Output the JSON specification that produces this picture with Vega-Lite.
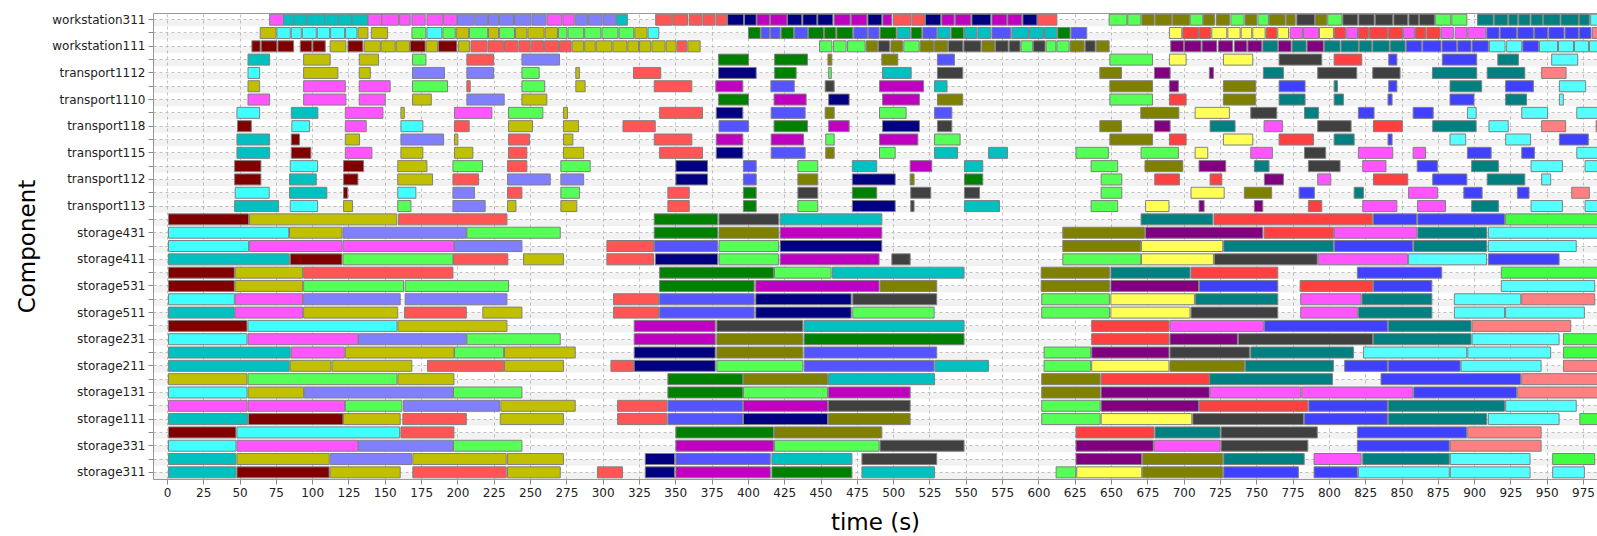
{
"$schema":"https://vega.github.io/schema/vega-lite/v6.json",
"width":1444,"height":466,
"autosize":{"type":"none"},
"padding":{"left":153,"top":13,"right":0,"bottom":57},
"background":"white",
"config":{"view":{"stroke":"#999999","strokeWidth":1},"font":"DejaVu Sans","axis":{"labelFont":"DejaVu Sans","titleFont":"DejaVu Sans"}},
"datasets":{
"lanes":[{"lane":"workstation311"},{"lane":"lane1"},{"lane":"workstation111"},{"lane":"lane3"},{"lane":"transport1112"},{"lane":"lane5"},{"lane":"transport1110"},{"lane":"lane7"},{"lane":"transport118"},{"lane":"lane9"},{"lane":"transport115"},{"lane":"lane11"},{"lane":"transport112"},{"lane":"lane13"},{"lane":"transport113"},{"lane":"lane15"},{"lane":"storage431"},{"lane":"lane17"},{"lane":"storage411"},{"lane":"lane19"},{"lane":"storage531"},{"lane":"lane21"},{"lane":"storage511"},{"lane":"lane23"},{"lane":"storage231"},{"lane":"lane25"},{"lane":"storage211"},{"lane":"lane27"},{"lane":"storage131"},{"lane":"lane29"},{"lane":"storage111"},{"lane":"lane31"},{"lane":"storage331"},{"lane":"lane33"},{"lane":"storage311"}],
"bars":[
{"lane":"workstation311","start":70.7,"end":80.3,"job":"pink"},{"lane":"workstation311","start":80.3,"end":87.2,"job":"teal"},{"lane":"workstation311","start":87.2,"end":96.4,"job":"teal"},{"lane":"workstation311","start":96.4,"end":108.5,"job":"teal"},{"lane":"workstation311","start":108.5,"end":118.2,"job":"teal"},{"lane":"workstation311","start":118.2,"end":127.4,"job":"teal"},{"lane":"workstation311","start":127.4,"end":138.4,"job":"teal"},{"lane":"workstation311","start":138.4,"end":148,"job":"pink"},{"lane":"workstation311","start":148,"end":159.5,"job":"pink"},{"lane":"workstation311","start":160.2,"end":167.5,"job":"pink"},{"lane":"workstation311","start":168.6,"end":177.8,"job":"pink"},{"lane":"workstation311","start":179,"end":190,"job":"pink"},{"lane":"workstation311","start":190.5,"end":199.6,"job":"pink"},{"lane":"workstation311","start":200.1,"end":211.6,"job":"lav"},{"lane":"workstation311","start":212.3,"end":220.8,"job":"lav"},{"lane":"workstation311","start":221.4,"end":228.3,"job":"lav"},{"lane":"workstation311","start":229,"end":238.6,"job":"lav"},{"lane":"workstation311","start":239.3,"end":250.6,"job":"lav"},{"lane":"workstation311","start":251.3,"end":260.9,"job":"lav"},{"lane":"workstation311","start":261.6,"end":271.9,"job":"pink"},{"lane":"workstation311","start":272.6,"end":280.4,"job":"pink"},{"lane":"workstation311","start":281.1,"end":289.6,"job":"lav"},{"lane":"workstation311","start":290.3,"end":299.7,"job":"lav"},{"lane":"workstation311","start":300.4,"end":309.1,"job":"lav"},{"lane":"workstation311","start":309.6,"end":317,"job":"teal"},{"lane":"workstation311","start":336.5,"end":347.6,"job":"red"},{"lane":"workstation311","start":348.2,"end":358.4,"job":"red"},{"lane":"workstation311","start":359.5,"end":368.3,"job":"red"},{"lane":"workstation311","start":369,"end":377.4,"job":"red"},{"lane":"workstation311","start":378.2,"end":385.5,"job":"red"},{"lane":"workstation311","start":386,"end":397,"job":"navy"},{"lane":"workstation311","start":397.7,"end":405.7,"job":"navy"},{"lane":"workstation311","start":406.2,"end":415,"job":"purple"},{"lane":"workstation311","start":415.4,"end":426.9,"job":"purple"},{"lane":"workstation311","start":427.2,"end":437.1,"job":"navy"},{"lane":"workstation311","start":437.8,"end":447.5,"job":"navy"},{"lane":"workstation311","start":448.1,"end":458.5,"job":"navy"},{"lane":"workstation311","start":459.4,"end":470.4,"job":"purple"},{"lane":"workstation311","start":471.1,"end":481.9,"job":"purple"},{"lane":"workstation311","start":482.6,"end":492.2,"job":"navy"},{"lane":"workstation311","start":492.9,"end":499.1,"job":"purple"},{"lane":"workstation311","start":500.2,"end":512.4,"job":"red"},{"lane":"workstation311","start":513.1,"end":521.6,"job":"red"},{"lane":"workstation311","start":522.3,"end":532.8,"job":"navy"},{"lane":"workstation311","start":533.5,"end":542,"job":"purple"},{"lane":"workstation311","start":542.7,"end":553.5,"job":"purple"},{"lane":"workstation311","start":554.2,"end":567.2,"job":"navy"},{"lane":"workstation311","start":568,"end":578.3,"job":"purple"},{"lane":"workstation311","start":578.9,"end":588.6,"job":"purple"},{"lane":"workstation311","start":589.3,"end":599,"job":"navy"},{"lane":"workstation311","start":599.4,"end":612.7,"job":"red"},{"lane":"workstation311","start":648.7,"end":660.9,"job":"green"},{"lane":"workstation311","start":661.5,"end":670.5,"job":"green"},{"lane":"workstation311","start":671.2,"end":679.7,"job":"olive2"},{"lane":"workstation311","start":680.4,"end":691.8,"job":"olive2"},{"lane":"workstation311","start":692.5,"end":704,"job":"olive2"},{"lane":"workstation311","start":704.5,"end":713.2,"job":"green"},{"lane":"workstation311","start":713.6,"end":721.2,"job":"olive2"},{"lane":"workstation311","start":722.4,"end":731.5,"job":"olive2"},{"lane":"workstation311","start":732.5,"end":741.6,"job":"green"},{"lane":"workstation311","start":742.3,"end":750.3,"job":"olive2"},{"lane":"workstation311","start":751.1,"end":758.4,"job":"green"},{"lane":"workstation311","start":759.1,"end":769.9,"job":"olive2"},{"lane":"workstation311","start":770.6,"end":776.8,"job":"olive2"},{"lane":"workstation311","start":777.9,"end":790.1,"job":"dgray"},{"lane":"workstation311","start":790.7,"end":798.6,"job":"olive2"},{"lane":"workstation311","start":799.2,"end":808.9,"job":"green"},{"lane":"workstation311","start":809.6,"end":819.7,"job":"dgray"},{"lane":"workstation311","start":820.6,"end":831.2,"job":"dgray"},{"lane":"workstation311","start":831.9,"end":844,"job":"dgray"},{"lane":"workstation311","start":844.7,"end":854.3,"job":"dgray"},{"lane":"workstation311","start":855.1,"end":861.7,"job":"dgray"},{"lane":"workstation311","start":862.3,"end":872.7,"job":"dgray"},{"lane":"workstation311","start":873.3,"end":883.9,"job":"green"},{"lane":"workstation311","start":884.6,"end":895,"job":"green"},{"lane":"workstation311","start":902.3,"end":913.2,"job":"dcyan"},{"lane":"workstation311","start":914,"end":923.1,"job":"dcyan"},{"lane":"workstation311","start":923.8,"end":930,"job":"dcyan"},{"lane":"workstation311","start":930.7,"end":938.5,"job":"dcyan"},{"lane":"workstation311","start":939.2,"end":947.2,"job":"dcyan"},{"lane":"workstation311","start":947.7,"end":959.2,"job":"dcyan"},{"lane":"workstation311","start":959.8,"end":971.8,"job":"dcyan"},{"lane":"workstation311","start":972.5,"end":979.3,"job":"dcyan"},{"lane":"workstation311","start":980.2,"end":990,"job":"lcyan"},
{"lane":"lane1","start":64.2,"end":75,"job":"olive"},{"lane":"lane1","start":75.7,"end":84.9,"job":"cyan"},{"lane":"lane1","start":85.6,"end":92.5,"job":"cyan"},{"lane":"lane1","start":93.2,"end":102.8,"job":"cyan"},{"lane":"lane1","start":103.5,"end":112,"job":"cyan"},{"lane":"lane1","start":112.7,"end":122.3,"job":"cyan"},{"lane":"lane1","start":123,"end":130.8,"job":"cyan"},{"lane":"lane1","start":131.5,"end":138.4,"job":"olive"},{"lane":"lane1","start":140.7,"end":151.9,"job":"olive"},{"lane":"lane1","start":168.7,"end":178.3,"job":"green"},{"lane":"lane1","start":179,"end":189.3,"job":"cyan"},{"lane":"lane1","start":190,"end":198.5,"job":"green"},{"lane":"lane1","start":199.2,"end":207.7,"job":"olive"},{"lane":"lane1","start":208.3,"end":220.8,"job":"green"},{"lane":"lane1","start":221.4,"end":228.3,"job":"olive"},{"lane":"lane1","start":229,"end":239.3,"job":"green"},{"lane":"lane1","start":240,"end":247.8,"job":"olive"},{"lane":"lane1","start":248.5,"end":259.7,"job":"olive"},{"lane":"lane1","start":260.4,"end":268.9,"job":"olive"},{"lane":"lane1","start":269.6,"end":275.4,"job":"green"},{"lane":"lane1","start":276.1,"end":286.9,"job":"green"},{"lane":"lane1","start":287.6,"end":298.8,"job":"green"},{"lane":"lane1","start":299.5,"end":310.6,"job":"green"},{"lane":"lane1","start":311.3,"end":321.4,"job":"green"},{"lane":"lane1","start":322.1,"end":330.6,"job":"olive"},{"lane":"lane1","start":331.3,"end":338.6,"job":"cyan"},{"lane":"lane1","start":400.4,"end":408.5,"job":"dgreen"},{"lane":"lane1","start":409.1,"end":414.9,"job":"blue"},{"lane":"lane1","start":415.6,"end":422.2,"job":"blue"},{"lane":"lane1","start":422.9,"end":431.4,"job":"dgreen"},{"lane":"lane1","start":432.1,"end":441,"job":"blue"},{"lane":"lane1","start":441.7,"end":452,"job":"dgreen"},{"lane":"lane1","start":452.7,"end":460.5,"job":"dgreen"},{"lane":"lane1","start":461.2,"end":472.2,"job":"dgreen"},{"lane":"lane1","start":472.9,"end":482.3,"job":"blue"},{"lane":"lane1","start":483,"end":490.3,"job":"blue"},{"lane":"lane1","start":491,"end":502.1,"job":"dgreen"},{"lane":"lane1","start":502.8,"end":511.7,"job":"teal"},{"lane":"lane1","start":512.4,"end":519.7,"job":"dgreen"},{"lane":"lane1","start":520.4,"end":530.1,"job":"blue"},{"lane":"lane1","start":530.7,"end":539.2,"job":"teal"},{"lane":"lane1","start":539.9,"end":548.4,"job":"dgreen"},{"lane":"lane1","start":549.1,"end":557.6,"job":"teal"},{"lane":"lane1","start":558.3,"end":567.2,"job":"teal"},{"lane":"lane1","start":568,"end":581,"job":"blue"},{"lane":"lane1","start":581.7,"end":593.2,"job":"teal"},{"lane":"lane1","start":593.8,"end":603.5,"job":"teal"},{"lane":"lane1","start":604.2,"end":612.7,"job":"teal"},{"lane":"lane1","start":613.3,"end":621.8,"job":"dgreen"},{"lane":"lane1","start":622.5,"end":633.3,"job":"blue"},{"lane":"lane1","start":690.2,"end":698.7,"job":"yellow"},{"lane":"lane1","start":699.4,"end":710.2,"job":"lred"},{"lane":"lane1","start":710.9,"end":718.7,"job":"lred"},{"lane":"lane1","start":719.4,"end":729.7,"job":"yellow"},{"lane":"lane1","start":730.4,"end":738.9,"job":"yellow"},{"lane":"lane1","start":739.6,"end":746.9,"job":"yellow"},{"lane":"lane1","start":747.6,"end":756.1,"job":"yellow"},{"lane":"lane1","start":756.8,"end":764.1,"job":"lred"},{"lane":"lane1","start":764.8,"end":772.2,"job":"yellow"},{"lane":"lane1","start":773.3,"end":781.8,"job":"pink"},{"lane":"lane1","start":782.5,"end":792.8,"job":"pink"},{"lane":"lane1","start":793.5,"end":803.1,"job":"yellow"},{"lane":"lane1","start":803.8,"end":811.6,"job":"lred"},{"lane":"lane1","start":812.3,"end":819.7,"job":"pink"},{"lane":"lane1","start":820.3,"end":827.2,"job":"lred"},{"lane":"lane1","start":827.9,"end":840.3,"job":"lred"},{"lane":"lane1","start":841,"end":850.6,"job":"lred"},{"lane":"lane1","start":851.3,"end":858.9,"job":"pink"},{"lane":"lane1","start":859.6,"end":866.7,"job":"lred"},{"lane":"lane1","start":867.4,"end":876.6,"job":"lred"},{"lane":"lane1","start":877.3,"end":885.7,"job":"pink"},{"lane":"lane1","start":886.9,"end":895,"job":"pink"},{"lane":"lane1","start":895.6,"end":908,"job":"pink"},{"lane":"lane1","start":908.7,"end":917.2,"job":"lblue"},{"lane":"lane1","start":917.9,"end":929.3,"job":"lblue"},{"lane":"lane1","start":930,"end":940.8,"job":"lblue"},{"lane":"lane1","start":941.5,"end":950.7,"job":"lblue"},{"lane":"lane1","start":951.4,"end":961.9,"job":"lblue"},{"lane":"lane1","start":962.6,"end":971.8,"job":"lblue"},{"lane":"lane1","start":972.5,"end":980.5,"job":"lblue"},{"lane":"lane1","start":981.4,"end":990,"job":"salmon"},
{"lane":"workstation111","start":58.5,"end":64.2,"job":"maroon"},{"lane":"workstation111","start":64.9,"end":75.7,"job":"maroon"},{"lane":"workstation111","start":76.4,"end":87.2,"job":"maroon"},{"lane":"workstation111","start":91.8,"end":99.8,"job":"maroon"},{"lane":"workstation111","start":100.5,"end":109,"job":"maroon"},{"lane":"workstation111","start":112.4,"end":123.2,"job":"olive"},{"lane":"workstation111","start":124.6,"end":134.9,"job":"maroon"},{"lane":"workstation111","start":135.8,"end":146.9,"job":"olive"},{"lane":"workstation111","start":147.5,"end":157.2,"job":"olive"},{"lane":"workstation111","start":157.9,"end":167,"job":"olive"},{"lane":"workstation111","start":167.5,"end":177.8,"job":"maroon"},{"lane":"workstation111","start":178.5,"end":186.3,"job":"olive"},{"lane":"workstation111","start":187,"end":199.6,"job":"maroon"},{"lane":"workstation111","start":200.8,"end":208.3,"job":"olive"},{"lane":"workstation111","start":209.3,"end":220.3,"job":"red"},{"lane":"workstation111","start":221,"end":231.8,"job":"red"},{"lane":"workstation111","start":232.4,"end":241.6,"job":"red"},{"lane":"workstation111","start":242.3,"end":250.1,"job":"red"},{"lane":"workstation111","start":250.8,"end":259.3,"job":"red"},{"lane":"workstation111","start":260,"end":269.6,"job":"red"},{"lane":"workstation111","start":270.3,"end":278.3,"job":"red"},{"lane":"workstation111","start":279,"end":286.9,"job":"olive"},{"lane":"workstation111","start":287.6,"end":294.9,"job":"olive"},{"lane":"workstation111","start":295.6,"end":306.3,"job":"olive"},{"lane":"workstation111","start":307,"end":316.7,"job":"olive"},{"lane":"workstation111","start":317.3,"end":324.7,"job":"olive"},{"lane":"workstation111","start":325.4,"end":333.1,"job":"olive"},{"lane":"workstation111","start":333.9,"end":343,"job":"olive"},{"lane":"workstation111","start":343.7,"end":350.6,"job":"olive"},{"lane":"workstation111","start":351.3,"end":357.9,"job":"red"},{"lane":"workstation111","start":358.6,"end":367.1,"job":"olive"},{"lane":"workstation111","start":449.3,"end":457.8,"job":"green"},{"lane":"workstation111","start":458.9,"end":467.6,"job":"green"},{"lane":"workstation111","start":468.6,"end":480.7,"job":"green"},{"lane":"workstation111","start":481.4,"end":489.2,"job":"olive2"},{"lane":"workstation111","start":489.9,"end":497.5,"job":"dgray"},{"lane":"workstation111","start":498.4,"end":506.4,"job":"olive2"},{"lane":"workstation111","start":507.3,"end":517.9,"job":"green"},{"lane":"workstation111","start":518.6,"end":527.8,"job":"olive2"},{"lane":"workstation111","start":528.5,"end":537.4,"job":"olive2"},{"lane":"workstation111","start":538.1,"end":548,"job":"dgray"},{"lane":"workstation111","start":548.7,"end":560.4,"job":"dgray"},{"lane":"workstation111","start":561.1,"end":569.8,"job":"olive2"},{"lane":"workstation111","start":570.5,"end":579.2,"job":"dgray"},{"lane":"workstation111","start":579.9,"end":587.4,"job":"dgray"},{"lane":"workstation111","start":588.1,"end":595.9,"job":"green"},{"lane":"workstation111","start":596.6,"end":604.6,"job":"dgray"},{"lane":"workstation111","start":605.3,"end":612,"job":"green"},{"lane":"workstation111","start":612.7,"end":621.1,"job":"green"},{"lane":"workstation111","start":621.8,"end":631.5,"job":"olive2"},{"lane":"workstation111","start":632.2,"end":639.1,"job":"dgray"},{"lane":"workstation111","start":639.8,"end":648.7,"job":"olive2"},{"lane":"workstation111","start":691.1,"end":699.9,"job":"purple2"},{"lane":"workstation111","start":700.6,"end":712,"job":"purple2"},{"lane":"workstation111","start":712.7,"end":722.8,"job":"purple2"},{"lane":"workstation111","start":724,"end":733.8,"job":"purple2"},{"lane":"workstation111","start":735,"end":743.5,"job":"purple2"},{"lane":"workstation111","start":744.2,"end":753.8,"job":"purple2"},{"lane":"workstation111","start":754.5,"end":764.6,"job":"dcyan"},{"lane":"workstation111","start":765.3,"end":774,"job":"purple2"},{"lane":"workstation111","start":774.7,"end":784.3,"job":"dcyan"},{"lane":"workstation111","start":785,"end":796.2,"job":"purple2"},{"lane":"workstation111","start":796.9,"end":807.7,"job":"dcyan"},{"lane":"workstation111","start":808.4,"end":820.3,"job":"dcyan"},{"lane":"workstation111","start":821,"end":829.5,"job":"dcyan"},{"lane":"workstation111","start":830.2,"end":841.6,"job":"dcyan"},{"lane":"workstation111","start":842.3,"end":852.5,"job":"dcyan"},{"lane":"workstation111","start":853.2,"end":863.9,"job":"lblue"},{"lane":"workstation111","start":864.6,"end":877.2,"job":"lblue"},{"lane":"workstation111","start":877.9,"end":888,"job":"lblue"},{"lane":"workstation111","start":888.7,"end":897.9,"job":"lblue"},{"lane":"workstation111","start":898.6,"end":909.8,"job":"lblue"},{"lane":"workstation111","start":910.5,"end":921.3,"job":"lcyan"},{"lane":"workstation111","start":922.4,"end":932.8,"job":"lcyan"},{"lane":"workstation111","start":933.5,"end":944.3,"job":"lblue"},{"lane":"workstation111","start":945,"end":957.4,"job":"lcyan"},{"lane":"workstation111","start":958.1,"end":968.4,"job":"lcyan"},{"lane":"workstation111","start":969.1,"end":978.7,"job":"lcyan"},{"lane":"workstation111","start":979.4,"end":990,"job":"lcyan"},
{"lane":"lane3","start":55.8,"end":70.7,"job":"teal"},{"lane":"lane3","start":94.1,"end":112.4,"job":"olive"},{"lane":"lane3","start":132.4,"end":145.7,"job":"olive"},{"lane":"lane3","start":169.1,"end":178.3,"job":"green"},{"lane":"lane3","start":206.5,"end":224.9,"job":"red"},{"lane":"lane3","start":244.4,"end":270.3,"job":"lav"},{"lane":"lane3","start":379.8,"end":400.4,"job":"dgreen"},{"lane":"lane3","start":418.4,"end":441,"job":"dgreen"},{"lane":"lane3","start":455.1,"end":457.8,"job":"olive2"},{"lane":"lane3","start":492.2,"end":503.2,"job":"olive2"},{"lane":"lane3","start":530.5,"end":542.2,"job":"blue"},{"lane":"lane3","start":649.2,"end":678.6,"job":"green"},{"lane":"lane3","start":690.2,"end":701.7,"job":"yellow"},{"lane":"lane3","start":727.4,"end":747.6,"job":"yellow"},{"lane":"lane3","start":765.7,"end":795.1,"job":"dgray"},{"lane":"lane3","start":803.6,"end":822.6,"job":"lred"},{"lane":"lane3","start":841.2,"end":846.8,"job":"lblue"},{"lane":"lane3","start":878.1,"end":901.8,"job":"lblue"},{"lane":"lane3","start":916.3,"end":930.5,"job":"dcyan"},{"lane":"lane3","start":953.4,"end":971.3,"job":"lcyan"},
{"lane":"transport1112","start":55.8,"end":63.8,"job":"cyan"},{"lane":"transport1112","start":94.1,"end":117.7,"job":"olive"},{"lane":"transport1112","start":132.4,"end":140,"job":"olive"},{"lane":"transport1112","start":169.1,"end":191.1,"job":"lav"},{"lane":"transport1112","start":206.5,"end":224.9,"job":"lav"},{"lane":"transport1112","start":244.4,"end":256.3,"job":"green"},{"lane":"transport1112","start":281.5,"end":284,"job":"olive"},{"lane":"transport1112","start":321.2,"end":340,"job":"red"},{"lane":"transport1112","start":379.8,"end":405.7,"job":"navy"},{"lane":"transport1112","start":418.4,"end":433.2,"job":"dgreen"},{"lane":"transport1112","start":455.6,"end":457.4,"job":"green"},{"lane":"transport1112","start":492.7,"end":512.4,"job":"teal"},{"lane":"transport1112","start":530.5,"end":547.9,"job":"dgray"},{"lane":"transport1112","start":642.3,"end":657.2,"job":"olive2"},{"lane":"transport1112","start":679.9,"end":690.7,"job":"purple2"},{"lane":"transport1112","start":717.7,"end":720.5,"job":"purple2"},{"lane":"transport1112","start":754.9,"end":768.7,"job":"dcyan"},{"lane":"transport1112","start":792.3,"end":819.2,"job":"dgray"},{"lane":"transport1112","start":830.2,"end":849,"job":"dgray"},{"lane":"transport1112","start":871.3,"end":901.8,"job":"dcyan"},{"lane":"transport1112","start":909,"end":934.9,"job":"dcyan"},{"lane":"transport1112","start":946.5,"end":963.3,"job":"salmon"},
{"lane":"lane5","start":55.8,"end":63.8,"job":"olive"},{"lane":"lane5","start":94.1,"end":122.8,"job":"pink"},{"lane":"lane5","start":132.4,"end":153.7,"job":"pink"},{"lane":"lane5","start":169.1,"end":193.2,"job":"green"},{"lane":"lane5","start":206.5,"end":208.8,"job":"red"},{"lane":"lane5","start":244.4,"end":260.1,"job":"green"},{"lane":"lane5","start":281.5,"end":287.9,"job":"olive"},{"lane":"lane5","start":335.5,"end":361.4,"job":"red"},{"lane":"lane5","start":377.9,"end":396.5,"job":"purple"},{"lane":"lane5","start":415.8,"end":431.9,"job":"blue"},{"lane":"lane5","start":453.2,"end":459.4,"job":"dgray"},{"lane":"lane5","start":490.6,"end":520.9,"job":"purple"},{"lane":"lane5","start":528.5,"end":537.1,"job":"teal"},{"lane":"lane5","start":649.2,"end":678.6,"job":"olive2"},{"lane":"lane5","start":690.2,"end":696.4,"job":"purple2"},{"lane":"lane5","start":727.4,"end":749.6,"job":"olive2"},{"lane":"lane5","start":765.7,"end":783.6,"job":"lblue"},{"lane":"lane5","start":803.6,"end":805.9,"job":"dcyan"},{"lane":"lane5","start":841.2,"end":846.8,"job":"lblue"},{"lane":"lane5","start":883.4,"end":905.2,"job":"dcyan"},{"lane":"lane5","start":921.7,"end":940.8,"job":"lblue"},{"lane":"lane5","start":958.7,"end":976.8,"job":"lcyan"},
{"lane":"transport1110","start":55.8,"end":70.7,"job":"pink"},{"lane":"transport1110","start":94.1,"end":123.2,"job":"pink"},{"lane":"transport1110","start":132.4,"end":150.3,"job":"pink"},{"lane":"transport1110","start":169.1,"end":182,"job":"olive"},{"lane":"transport1110","start":206.5,"end":232.2,"job":"lav"},{"lane":"transport1110","start":244.4,"end":261.6,"job":"olive"},{"lane":"transport1110","start":379.8,"end":400.4,"job":"dgreen"},{"lane":"transport1110","start":418,"end":440.1,"job":"purple"},{"lane":"transport1110","start":455.6,"end":469.7,"job":"navy"},{"lane":"transport1110","start":492.7,"end":518.1,"job":"purple"},{"lane":"transport1110","start":530.5,"end":547.9,"job":"olive2"},{"lane":"transport1110","start":649.2,"end":678.6,"job":"green"},{"lane":"transport1110","start":690.2,"end":701.7,"job":"lred"},{"lane":"transport1110","start":727.4,"end":749.6,"job":"olive2"},{"lane":"transport1110","start":765.7,"end":783.6,"job":"dcyan"},{"lane":"transport1110","start":803.6,"end":810,"job":"dcyan"},{"lane":"transport1110","start":840.7,"end":843.5,"job":"lblue"},{"lane":"transport1110","start":883.4,"end":899.9,"job":"lblue"},{"lane":"transport1110","start":921.7,"end":936.1,"job":"dcyan"},{"lane":"transport1110","start":958.7,"end":961.4,"job":"lcyan"},
{"lane":"lane7","start":48.2,"end":63.8,"job":"cyan"},{"lane":"lane7","start":85.6,"end":103.9,"job":"teal"},{"lane":"lane7","start":122.8,"end":148.7,"job":"pink"},{"lane":"lane7","start":161.1,"end":163.4,"job":"olive"},{"lane":"lane7","start":198,"end":223.7,"job":"pink"},{"lane":"lane7","start":235.2,"end":258.8,"job":"green"},{"lane":"lane7","start":273,"end":275.8,"job":"olive"},{"lane":"lane7","start":339.2,"end":368.7,"job":"red"},{"lane":"lane7","start":378.2,"end":396.5,"job":"navy"},{"lane":"lane7","start":416,"end":439.4,"job":"blue"},{"lane":"lane7","start":453.2,"end":459.4,"job":"olive2"},{"lane":"lane7","start":490.6,"end":508.9,"job":"green"},{"lane":"lane7","start":528.5,"end":540.4,"job":"blue"},{"lane":"lane7","start":670.5,"end":696.7,"job":"olive2"},{"lane":"lane7","start":707.9,"end":731.5,"job":"yellow"},{"lane":"lane7","start":746.2,"end":764.1,"job":"dgray"},{"lane":"lane7","start":783.2,"end":792.8,"job":"dcyan"},{"lane":"lane7","start":820.3,"end":831.1,"job":"lblue"},{"lane":"lane7","start":858,"end":871.8,"job":"lblue"},{"lane":"lane7","start":895.4,"end":901.4,"job":"lcyan"},{"lane":"lane7","start":932.8,"end":950.6,"job":"lcyan"},{"lane":"lane7","start":970.7,"end":990,"job":"lcyan"},
{"lane":"transport118","start":48.6,"end":58.1,"job":"maroon"},{"lane":"transport118","start":86,"end":98.2,"job":"cyan"},{"lane":"transport118","start":122.8,"end":137.2,"job":"pink"},{"lane":"transport118","start":161.1,"end":176.2,"job":"cyan"},{"lane":"transport118","start":198,"end":208.1,"job":"red"},{"lane":"transport118","start":235.2,"end":251.7,"job":"olive"},{"lane":"transport118","start":273,"end":283.4,"job":"olive"},{"lane":"transport118","start":314,"end":336.2,"job":"red"},{"lane":"transport118","start":380.1,"end":400.4,"job":"blue"},{"lane":"transport118","start":418,"end":441,"job":"dgreen"},{"lane":"transport118","start":455.6,"end":469.7,"job":"purple"},{"lane":"transport118","start":492.7,"end":518.1,"job":"navy"},{"lane":"transport118","start":530.5,"end":540.4,"job":"dgray"},{"lane":"transport118","start":642.3,"end":657.2,"job":"olive2"},{"lane":"transport118","start":679.9,"end":690.7,"job":"purple2"},{"lane":"transport118","start":718.2,"end":735.4,"job":"dcyan"},{"lane":"transport118","start":755.4,"end":768,"job":"pink"},{"lane":"transport118","start":792.3,"end":815.3,"job":"dgray"},{"lane":"transport118","start":830.7,"end":850.6,"job":"lred"},{"lane":"transport118","start":871.5,"end":901.4,"job":"dcyan"},{"lane":"transport118","start":910.2,"end":923.5,"job":"lcyan"},{"lane":"transport118","start":946.5,"end":963,"job":"salmon"},{"lane":"transport118","start":984,"end":990,"job":"salmon"},
{"lane":"lane9","start":48.2,"end":70.7,"job":"teal"},{"lane":"lane9","start":85.6,"end":91.3,"job":"maroon"},{"lane":"lane9","start":122.8,"end":132.6,"job":"olive"},{"lane":"lane9","start":161.1,"end":190.5,"job":"lav"},{"lane":"lane9","start":198,"end":200.3,"job":"olive"},{"lane":"lane9","start":235.2,"end":249.6,"job":"red"},{"lane":"lane9","start":273,"end":279.5,"job":"olive"},{"lane":"lane9","start":335.5,"end":361.4,"job":"red"},{"lane":"lane9","start":378.2,"end":396.5,"job":"purple"},{"lane":"lane9","start":416,"end":438.3,"job":"purple"},{"lane":"lane9","start":453.6,"end":459.4,"job":"green"},{"lane":"lane9","start":490.6,"end":517,"job":"purple"},{"lane":"lane9","start":528.5,"end":546.1,"job":"green"},{"lane":"lane9","start":649.2,"end":678.6,"job":"olive2"},{"lane":"lane9","start":690.2,"end":701.7,"job":"lred"},{"lane":"lane9","start":727.4,"end":747.6,"job":"yellow"},{"lane":"lane9","start":765.7,"end":789.4,"job":"lred"},{"lane":"lane9","start":803.6,"end":817.4,"job":"dcyan"},{"lane":"lane9","start":840.7,"end":843.5,"job":"lblue"},{"lane":"lane9","start":883.4,"end":894.2,"job":"lcyan"},{"lane":"lane9","start":921.7,"end":938.9,"job":"lcyan"},{"lane":"lane9","start":958.7,"end":978.6,"job":"lblue"},
{"lane":"transport115","start":48.2,"end":70.7,"job":"teal"},{"lane":"transport115","start":85.6,"end":99.1,"job":"maroon"},{"lane":"transport115","start":122.8,"end":141.1,"job":"pink"},{"lane":"transport115","start":161.1,"end":176.2,"job":"olive"},{"lane":"transport115","start":198,"end":210.6,"job":"olive"},{"lane":"transport115","start":235.2,"end":247.8,"job":"red"},{"lane":"transport115","start":273,"end":286.9,"job":"olive"},{"lane":"transport115","start":339.2,"end":368.7,"job":"red"},{"lane":"transport115","start":378.2,"end":396.5,"job":"navy"},{"lane":"transport115","start":416,"end":439.4,"job":"blue"},{"lane":"transport115","start":453.6,"end":459.4,"job":"olive2"},{"lane":"transport115","start":490.6,"end":501.4,"job":"green"},{"lane":"transport115","start":528.5,"end":544.3,"job":"teal"},{"lane":"transport115","start":565.7,"end":578.7,"job":"teal"},{"lane":"transport115","start":625.9,"end":648.2,"job":"green"},{"lane":"transport115","start":670.7,"end":696.4,"job":"green"},{"lane":"transport115","start":707.9,"end":716.6,"job":"yellow"},{"lane":"transport115","start":746.2,"end":761.1,"job":"pink"},{"lane":"transport115","start":783.2,"end":797.8,"job":"dgray"},{"lane":"transport115","start":820.3,"end":844,"job":"pink"},{"lane":"transport115","start":858,"end":866.5,"job":"pink"},{"lane":"transport115","start":895.4,"end":911.7,"job":"lblue"},{"lane":"transport115","start":932.8,"end":941.5,"job":"lblue"},{"lane":"transport115","start":970.7,"end":990,"job":"lcyan"},
{"lane":"lane11","start":46.6,"end":64.7,"job":"maroon"},{"lane":"lane11","start":84.9,"end":103.7,"job":"cyan"},{"lane":"lane11","start":121.6,"end":135.4,"job":"maroon"},{"lane":"lane11","start":158.9,"end":179,"job":"olive"},{"lane":"lane11","start":196.9,"end":217.3,"job":"green"},{"lane":"lane11","start":234.5,"end":247.8,"job":"red"},{"lane":"lane11","start":271.2,"end":291.4,"job":"green"},{"lane":"lane11","start":350.4,"end":372.2,"job":"navy"},{"lane":"lane11","start":396.9,"end":405.7,"job":"blue"},{"lane":"lane11","start":434.4,"end":448.1,"job":"green"},{"lane":"lane11","start":471.9,"end":488.7,"job":"teal"},{"lane":"lane11","start":511.7,"end":526.6,"job":"purple"},{"lane":"lane11","start":549.1,"end":561.7,"job":"teal"},{"lane":"lane11","start":636.3,"end":654.6,"job":"green"},{"lane":"lane11","start":673.4,"end":699.4,"job":"olive2"},{"lane":"lane11","start":710.6,"end":729,"job":"purple2"},{"lane":"lane11","start":748.7,"end":758.8,"job":"dcyan"},{"lane":"lane11","start":785.9,"end":807.7,"job":"dgray"},{"lane":"lane11","start":823.3,"end":839.3,"job":"pink"},{"lane":"lane11","start":860.8,"end":874.7,"job":"lblue"},{"lane":"lane11","start":898.3,"end":916.7,"job":"dcyan"},{"lane":"lane11","start":939.2,"end":960.8,"job":"lcyan"},{"lane":"lane11","start":976.4,"end":990,"job":"lcyan"},
{"lane":"transport112","start":46.6,"end":64.7,"job":"maroon"},{"lane":"transport112","start":84.4,"end":102.8,"job":"teal"},{"lane":"transport112","start":121.6,"end":131.5,"job":"maroon"},{"lane":"transport112","start":158.9,"end":182.9,"job":"olive"},{"lane":"transport112","start":196.9,"end":214.6,"job":"red"},{"lane":"transport112","start":234.5,"end":263.9,"job":"lav"},{"lane":"transport112","start":271.2,"end":286.9,"job":"lav"},{"lane":"transport112","start":350.4,"end":372.2,"job":"navy"},{"lane":"transport112","start":396.9,"end":405.7,"job":"blue"},{"lane":"transport112","start":434.4,"end":448.1,"job":"olive2"},{"lane":"transport112","start":471.9,"end":501.4,"job":"navy"},{"lane":"transport112","start":511.7,"end":514.4,"job":"olive2"},{"lane":"transport112","start":549.1,"end":561.7,"job":"dgreen"},{"lane":"transport112","start":643.2,"end":657.4,"job":"green"},{"lane":"transport112","start":680.1,"end":697.1,"job":"lred"},{"lane":"transport112","start":718.2,"end":726.3,"job":"lred"},{"lane":"transport112","start":755.6,"end":768.7,"job":"purple2"},{"lane":"transport112","start":792.3,"end":801.3,"job":"pink"},{"lane":"transport112","start":830.7,"end":854.3,"job":"lred"},{"lane":"transport112","start":871.5,"end":895,"job":"lblue"},{"lane":"transport112","start":909,"end":934.9,"job":"dcyan"},{"lane":"transport112","start":946.5,"end":952.7,"job":"lcyan"},
{"lane":"lane13","start":47,"end":70.4,"job":"cyan"},{"lane":"lane13","start":84.4,"end":110.1,"job":"teal"},{"lane":"lane13","start":121.6,"end":124.4,"job":"maroon"},{"lane":"lane13","start":158.9,"end":171.4,"job":"cyan"},{"lane":"lane13","start":196.9,"end":211.8,"job":"lav"},{"lane":"lane13","start":234.5,"end":244.4,"job":"red"},{"lane":"lane13","start":271.2,"end":284,"job":"green"},{"lane":"lane13","start":344.9,"end":359.6,"job":"red"},{"lane":"lane13","start":396.9,"end":405.7,"job":"dgreen"},{"lane":"lane13","start":434.4,"end":448.1,"job":"dgray"},{"lane":"lane13","start":471.9,"end":488.7,"job":"dgreen"},{"lane":"lane13","start":512.1,"end":525.9,"job":"dgray"},{"lane":"lane13","start":549.1,"end":559.5,"job":"dgray"},{"lane":"lane13","start":643.2,"end":657.4,"job":"green"},{"lane":"lane13","start":705.1,"end":727.9,"job":"yellow"},{"lane":"lane13","start":741.8,"end":760.6,"job":"olive2"},{"lane":"lane13","start":779.5,"end":790,"job":"lblue"},{"lane":"lane13","start":817.4,"end":823.8,"job":"dcyan"},{"lane":"lane13","start":854.9,"end":874.7,"job":"pink"},{"lane":"lane13","start":892.9,"end":905.5,"job":"lblue"},{"lane":"lane13","start":929.8,"end":937.8,"job":"lblue"},{"lane":"lane13","start":967.2,"end":979.3,"job":"salmon"},
{"lane":"transport113","start":46.6,"end":76.9,"job":"teal"},{"lane":"transport113","start":84.9,"end":103.7,"job":"cyan"},{"lane":"transport113","start":121.6,"end":127.8,"job":"olive"},{"lane":"transport113","start":158.9,"end":168,"job":"green"},{"lane":"transport113","start":196.9,"end":219.1,"job":"lav"},{"lane":"transport113","start":234.5,"end":240.3,"job":"olive"},{"lane":"transport113","start":271.2,"end":282.2,"job":"olive"},{"lane":"transport113","start":344.9,"end":359.6,"job":"red"},{"lane":"transport113","start":396.9,"end":405.7,"job":"dgreen"},{"lane":"transport113","start":434.4,"end":448.1,"job":"green"},{"lane":"transport113","start":471.9,"end":501.4,"job":"navy"},{"lane":"transport113","start":512.1,"end":514.4,"job":"dgray"},{"lane":"transport113","start":549.1,"end":573.2,"job":"teal"},{"lane":"transport113","start":636.3,"end":654.6,"job":"green"},{"lane":"transport113","start":673.8,"end":689.9,"job":"yellow"},{"lane":"transport113","start":710.6,"end":714.1,"job":"purple2"},{"lane":"transport113","start":748.7,"end":754.5,"job":"purple2"},{"lane":"transport113","start":785.9,"end":795.1,"job":"lred"},{"lane":"transport113","start":823.3,"end":846.8,"job":"pink"},{"lane":"transport113","start":861,"end":880.3,"job":"pink"},{"lane":"transport113","start":898.3,"end":916.7,"job":"dcyan"},{"lane":"transport113","start":939.2,"end":960.8,"job":"lcyan"},{"lane":"transport113","start":976.4,"end":990,"job":"lcyan"},
{"lane":"lane15","start":1.1,"end":56.2,"job":"maroon"},{"lane":"lane15","start":56.9,"end":158.3,"job":"olive"},{"lane":"lane15","start":159.5,"end":234.1,"job":"red"},{"lane":"lane15","start":335.5,"end":379.2,"job":"dgreen"},{"lane":"lane15","start":380.1,"end":421.2,"job":"dgray"},{"lane":"lane15","start":422.2,"end":492.2,"job":"teal"},{"lane":"lane15","start":670.7,"end":720,"job":"dcyan"},{"lane":"lane15","start":720.9,"end":829.9,"job":"lred"},{"lane":"lane15","start":830.7,"end":860.5,"job":"lblue"},{"lane":"lane15","start":861.2,"end":920.9,"job":"lblue"},{"lane":"lane15","start":921.7,"end":990,"job":"lgreen"},
{"lane":"storage431","start":1.1,"end":83.8,"job":"cyan"},{"lane":"storage431","start":84.4,"end":120.5,"job":"olive"},{"lane":"storage431","start":121.2,"end":206.1,"job":"lav"},{"lane":"storage431","start":206.5,"end":270.8,"job":"green"},{"lane":"storage431","start":335.5,"end":379.2,"job":"dgreen"},{"lane":"storage431","start":380.1,"end":421.2,"job":"olive2"},{"lane":"storage431","start":422.2,"end":492.2,"job":"purple"},{"lane":"storage431","start":616.8,"end":673,"job":"olive2"},{"lane":"storage431","start":673.8,"end":754.5,"job":"purple2"},{"lane":"storage431","start":755.4,"end":803.1,"job":"lred"},{"lane":"storage431","start":803.8,"end":860.5,"job":"pink"},{"lane":"storage431","start":861.2,"end":908.7,"job":"dcyan"},{"lane":"storage431","start":909.8,"end":990,"job":"lcyan"},
{"lane":"lane17","start":1.1,"end":56.2,"job":"cyan"},{"lane":"lane17","start":56.9,"end":120.5,"job":"pink"},{"lane":"lane17","start":121.2,"end":197.6,"job":"pink"},{"lane":"lane17","start":198,"end":244.4,"job":"lav"},{"lane":"lane17","start":302.9,"end":335,"job":"red"},{"lane":"lane17","start":335.5,"end":379.2,"job":"blue"},{"lane":"lane17","start":380.1,"end":421,"job":"green"},{"lane":"lane17","start":422.2,"end":492.2,"job":"navy"},{"lane":"lane17","start":616.8,"end":670.5,"job":"olive2"},{"lane":"lane17","start":671,"end":726.9,"job":"yellow"},{"lane":"lane17","start":727.6,"end":803.1,"job":"dcyan"},{"lane":"lane17","start":803.8,"end":857.7,"job":"lblue"},{"lane":"lane17","start":858.4,"end":908.7,"job":"dcyan"},{"lane":"lane17","start":909.8,"end":970.3,"job":"lcyan"},
{"lane":"storage411","start":1.1,"end":84.2,"job":"teal"},{"lane":"storage411","start":84.9,"end":120.5,"job":"maroon"},{"lane":"storage411","start":121.2,"end":196.9,"job":"green"},{"lane":"storage411","start":197.3,"end":234.7,"job":"red"},{"lane":"storage411","start":245.5,"end":273,"job":"olive"},{"lane":"storage411","start":302.9,"end":335,"job":"red"},{"lane":"storage411","start":336.2,"end":379.2,"job":"navy"},{"lane":"storage411","start":380.1,"end":421,"job":"green"},{"lane":"storage411","start":422.2,"end":490.3,"job":"purple"},{"lane":"storage411","start":499.1,"end":511.7,"job":"dgray"},{"lane":"storage411","start":616.8,"end":670.5,"job":"green"},{"lane":"storage411","start":671,"end":720.5,"job":"yellow"},{"lane":"storage411","start":721.2,"end":792,"job":"dgray"},{"lane":"storage411","start":792.7,"end":854.2,"job":"pink"},{"lane":"storage411","start":854.9,"end":908.5,"job":"lcyan"},{"lane":"storage411","start":909.8,"end":958.5,"job":"lblue"},
{"lane":"lane19","start":1.1,"end":46.4,"job":"maroon"},{"lane":"lane19","start":47,"end":93.4,"job":"olive"},{"lane":"lane19","start":94.1,"end":196.9,"job":"red"},{"lane":"lane19","start":339.2,"end":417.6,"job":"dgreen"},{"lane":"lane19","start":418.3,"end":457.3,"job":"green"},{"lane":"lane19","start":458.2,"end":548.8,"job":"teal"},{"lane":"lane19","start":601.9,"end":648.9,"job":"olive2"},{"lane":"lane19","start":649.9,"end":704.4,"job":"dcyan"},{"lane":"lane19","start":705.1,"end":764.8,"job":"lred"},{"lane":"lane19","start":819.6,"end":877.7,"job":"lblue"},{"lane":"lane19","start":918.7,"end":990,"job":"lgreen"},
{"lane":"storage531","start":1.1,"end":46.4,"job":"maroon"},{"lane":"storage531","start":47,"end":93.4,"job":"olive"},{"lane":"storage531","start":94.1,"end":162.9,"job":"green"},{"lane":"storage531","start":164,"end":235.2,"job":"green"},{"lane":"storage531","start":339.2,"end":404.3,"job":"dgreen"},{"lane":"storage531","start":405.4,"end":490.3,"job":"purple"},{"lane":"storage531","start":491,"end":530,"job":"olive2"},{"lane":"storage531","start":601.9,"end":648.9,"job":"olive2"},{"lane":"storage531","start":649.9,"end":710.2,"job":"purple2"},{"lane":"storage531","start":710.9,"end":764.8,"job":"lblue"},{"lane":"storage531","start":780.2,"end":830.2,"job":"lred"},{"lane":"storage531","start":830.7,"end":870.9,"job":"lblue"},{"lane":"storage531","start":918.7,"end":983,"job":"lcyan"},
{"lane":"lane21","start":1.1,"end":46.4,"job":"cyan"},{"lane":"lane21","start":47,"end":93.4,"job":"pink"},{"lane":"lane21","start":94.1,"end":160.6,"job":"lav"},{"lane":"lane21","start":164,"end":234.1,"job":"lav"},{"lane":"lane21","start":307.5,"end":338.5,"job":"red"},{"lane":"lane21","start":339.2,"end":404.3,"job":"blue"},{"lane":"lane21","start":405.4,"end":471.1,"job":"navy"},{"lane":"lane21","start":472.2,"end":530,"job":"dgray"},{"lane":"lane21","start":602.3,"end":648.9,"job":"green"},{"lane":"lane21","start":649.9,"end":707.4,"job":"yellow"},{"lane":"lane21","start":708.1,"end":764.8,"job":"dcyan"},{"lane":"lane21","start":780.6,"end":822.2,"job":"pink"},{"lane":"lane21","start":822.8,"end":870.9,"job":"dcyan"},{"lane":"lane21","start":886.4,"end":932.1,"job":"lcyan"},{"lane":"lane21","start":932.8,"end":983,"job":"salmon"},
{"lane":"storage511","start":1.1,"end":46.4,"job":"teal"},{"lane":"storage511","start":47,"end":93.4,"job":"pink"},{"lane":"storage511","start":94.1,"end":158.9,"job":"olive"},{"lane":"storage511","start":163.6,"end":206.1,"job":"red"},{"lane":"storage511","start":217.5,"end":244.4,"job":"olive"},{"lane":"storage511","start":307.5,"end":338.5,"job":"red"},{"lane":"storage511","start":339.2,"end":404.3,"job":"blue"},{"lane":"storage511","start":405.4,"end":471.1,"job":"navy"},{"lane":"storage511","start":472.2,"end":528.2,"job":"green"},{"lane":"storage511","start":602.3,"end":648.9,"job":"green"},{"lane":"storage511","start":649.9,"end":704.4,"job":"yellow"},{"lane":"storage511","start":705.1,"end":764.8,"job":"dgray"},{"lane":"storage511","start":780.6,"end":819.6,"job":"pink"},{"lane":"storage511","start":820.3,"end":870.9,"job":"dcyan"},{"lane":"storage511","start":886.4,"end":920.9,"job":"lcyan"},{"lane":"storage511","start":921.7,"end":975.9,"job":"lcyan"},
{"lane":"lane23","start":1.1,"end":55.1,"job":"maroon"},{"lane":"lane23","start":55.8,"end":158.4,"job":"cyan"},{"lane":"lane23","start":159,"end":234.1,"job":"olive"},{"lane":"lane23","start":321.7,"end":377.5,"job":"purple"},{"lane":"lane23","start":378.6,"end":437.8,"job":"dgray"},{"lane":"lane23","start":438.7,"end":548.8,"job":"teal"},{"lane":"lane23","start":636.7,"end":689.9,"job":"lred"},{"lane":"lane23","start":690.6,"end":754.9,"job":"pink"},{"lane":"lane23","start":755.6,"end":840.3,"job":"lblue"},{"lane":"lane23","start":841,"end":897.9,"job":"dcyan"},{"lane":"lane23","start":898.6,"end":966.5,"job":"salmon"},
{"lane":"storage231","start":1.1,"end":55.1,"job":"cyan"},{"lane":"storage231","start":55.8,"end":131.5,"job":"pink"},{"lane":"storage231","start":131.9,"end":206.1,"job":"lav"},{"lane":"storage231","start":206.5,"end":270.8,"job":"green"},{"lane":"storage231","start":321.7,"end":377.5,"job":"purple"},{"lane":"storage231","start":378.6,"end":437.8,"job":"olive2"},{"lane":"storage231","start":438.7,"end":548.8,"job":"dgreen"},{"lane":"storage231","start":636.7,"end":689.9,"job":"lred"},{"lane":"storage231","start":690.6,"end":737,"job":"purple2"},{"lane":"storage231","start":737.7,"end":830.2,"job":"dgray"},{"lane":"storage231","start":830.7,"end":897.9,"job":"dcyan"},{"lane":"storage231","start":898.6,"end":958.5,"job":"lcyan"},{"lane":"storage231","start":961.5,"end":990,"job":"lgreen"},
{"lane":"lane25","start":1.1,"end":84.9,"job":"teal"},{"lane":"lane25","start":85.6,"end":122.1,"job":"pink"},{"lane":"lane25","start":122.8,"end":197.6,"job":"olive"},{"lane":"lane25","start":198,"end":231.8,"job":"green"},{"lane":"lane25","start":232.4,"end":281.1,"job":"olive"},{"lane":"lane25","start":321.7,"end":377.5,"job":"navy"},{"lane":"lane25","start":378.6,"end":437.8,"job":"olive2"},{"lane":"lane25","start":438.7,"end":530,"job":"blue"},{"lane":"lane25","start":603.9,"end":636,"job":"green"},{"lane":"lane25","start":636.7,"end":689.9,"job":"purple2"},{"lane":"lane25","start":690.6,"end":745.3,"job":"dgray"},{"lane":"lane25","start":746.2,"end":816.9,"job":"dcyan"},{"lane":"lane25","start":823.8,"end":894.9,"job":"lcyan"},{"lane":"lane25","start":895.6,"end":952.7,"job":"lcyan"},{"lane":"lane25","start":961.5,"end":990,"job":"lgreen"},
{"lane":"storage211","start":1.1,"end":84.2,"job":"teal"},{"lane":"storage211","start":84.9,"end":112.9,"job":"olive"},{"lane":"storage211","start":113.6,"end":168.6,"job":"olive"},{"lane":"storage211","start":179.4,"end":231.8,"job":"red"},{"lane":"storage211","start":232.4,"end":273,"job":"olive"},{"lane":"storage211","start":305.7,"end":321.2,"job":"red"},{"lane":"storage211","start":321.7,"end":377.5,"job":"navy"},{"lane":"storage211","start":378.6,"end":437.8,"job":"green"},{"lane":"storage211","start":438.7,"end":528.2,"job":"blue"},{"lane":"storage211","start":528.9,"end":565.6,"job":"teal"},{"lane":"storage211","start":603.9,"end":636,"job":"green"},{"lane":"storage211","start":636.7,"end":689.9,"job":"yellow"},{"lane":"storage211","start":690.6,"end":741.8,"job":"olive2"},{"lane":"storage211","start":742.5,"end":803.1,"job":"dcyan"},{"lane":"storage211","start":810.9,"end":840.3,"job":"lblue"},{"lane":"storage211","start":841,"end":890.4,"job":"lblue"},{"lane":"storage211","start":891,"end":946.1,"job":"lcyan"},{"lane":"storage211","start":961.5,"end":990,"job":"salmon"},
{"lane":"lane27","start":1.1,"end":55.1,"job":"olive"},{"lane":"lane27","start":55.8,"end":158.4,"job":"green"},{"lane":"lane27","start":159,"end":197.6,"job":"olive"},{"lane":"lane27","start":344.9,"end":396.5,"job":"dgreen"},{"lane":"lane27","start":396.9,"end":454.8,"job":"olive2"},{"lane":"lane27","start":455.5,"end":528.5,"job":"teal"},{"lane":"lane27","start":602.3,"end":642.5,"job":"olive2"},{"lane":"lane27","start":643.2,"end":717.7,"job":"lred"},{"lane":"lane27","start":717.9,"end":802.5,"job":"dcyan"},{"lane":"lane27","start":835.9,"end":932.1,"job":"lblue"},{"lane":"lane27","start":932.8,"end":990,"job":"salmon"},
{"lane":"storage131","start":1.1,"end":55.1,"job":"cyan"},{"lane":"storage131","start":55.8,"end":94.1,"job":"olive"},{"lane":"storage131","start":94.5,"end":196.9,"job":"lav"},{"lane":"storage131","start":197.3,"end":244.4,"job":"green"},{"lane":"storage131","start":344.9,"end":396.5,"job":"dgreen"},{"lane":"storage131","start":396.9,"end":454.8,"job":"green"},{"lane":"storage131","start":455.5,"end":511.7,"job":"purple"},{"lane":"storage131","start":602.3,"end":642.5,"job":"olive2"},{"lane":"storage131","start":643.2,"end":717.7,"job":"purple2"},{"lane":"storage131","start":718.2,"end":780.6,"job":"pink"},{"lane":"storage131","start":781.3,"end":857.7,"job":"pink"},{"lane":"storage131","start":858.4,"end":929.3,"job":"lblue"},{"lane":"storage131","start":930,"end":990,"job":"salmon"},
{"lane":"lane29","start":1.1,"end":55.1,"job":"pink"},{"lane":"lane29","start":55.8,"end":122.3,"job":"pink"},{"lane":"lane29","start":122.8,"end":161.8,"job":"green"},{"lane":"lane29","start":162.9,"end":229,"job":"lav"},{"lane":"lane29","start":229.9,"end":281.1,"job":"olive"},{"lane":"lane29","start":310.3,"end":344.2,"job":"red"},{"lane":"lane29","start":344.9,"end":396.5,"job":"blue"},{"lane":"lane29","start":396.9,"end":454.8,"job":"purple"},{"lane":"lane29","start":455.5,"end":511.7,"job":"dgray"},{"lane":"lane29","start":602.3,"end":642.5,"job":"green"},{"lane":"lane29","start":643.2,"end":710.2,"job":"purple2"},{"lane":"lane29","start":710.9,"end":785.5,"job":"lred"},{"lane":"lane29","start":786.2,"end":840.3,"job":"lblue"},{"lane":"lane29","start":841,"end":920.9,"job":"dcyan"},{"lane":"lane29","start":921.7,"end":970.3,"job":"lcyan"},
{"lane":"storage111","start":1.1,"end":55.5,"job":"teal"},{"lane":"storage111","start":56.2,"end":121.2,"job":"maroon"},{"lane":"storage111","start":121.6,"end":160.6,"job":"olive"},{"lane":"storage111","start":162.4,"end":206.1,"job":"red"},{"lane":"storage111","start":229.5,"end":273,"job":"olive"},{"lane":"storage111","start":310.3,"end":344.2,"job":"red"},{"lane":"storage111","start":344.9,"end":396.5,"job":"blue"},{"lane":"storage111","start":396.9,"end":454.8,"job":"navy"},{"lane":"storage111","start":455.5,"end":511.7,"job":"olive2"},{"lane":"storage111","start":602.3,"end":642.5,"job":"green"},{"lane":"storage111","start":643.2,"end":705.6,"job":"yellow"},{"lane":"storage111","start":706.3,"end":782.5,"job":"dgray"},{"lane":"storage111","start":783.2,"end":840.3,"job":"lblue"},{"lane":"storage111","start":841,"end":908.7,"job":"dcyan"},{"lane":"storage111","start":909.8,"end":958.5,"job":"lcyan"},{"lane":"storage111","start":972.8,"end":990,"job":"lgreen"},
{"lane":"lane31","start":1.1,"end":47.5,"job":"maroon"},{"lane":"lane31","start":48.2,"end":160.2,"job":"cyan"},{"lane":"lane31","start":161.1,"end":197.6,"job":"red"},{"lane":"lane31","start":350.4,"end":417.6,"job":"dgreen"},{"lane":"lane31","start":418.3,"end":492.2,"job":"olive2"},{"lane":"lane31","start":625.9,"end":679.6,"job":"lred"},{"lane":"lane31","start":680.3,"end":725.1,"job":"dcyan"},{"lane":"lane31","start":725.8,"end":792,"job":"dgray"},{"lane":"lane31","start":819.6,"end":894.9,"job":"lblue"},{"lane":"lane31","start":895.6,"end":946.1,"job":"salmon"},
{"lane":"storage331","start":1.1,"end":47.5,"job":"cyan"},{"lane":"storage331","start":48.2,"end":131.5,"job":"pink"},{"lane":"storage331","start":131.9,"end":196.9,"job":"lav"},{"lane":"storage331","start":197.3,"end":244.4,"job":"green"},{"lane":"storage331","start":350.4,"end":417.6,"job":"purple"},{"lane":"storage331","start":418.3,"end":490.3,"job":"green"},{"lane":"storage331","start":491,"end":548.8,"job":"dgray"},{"lane":"storage331","start":625.9,"end":679.1,"job":"purple2"},{"lane":"storage331","start":679.8,"end":725.1,"job":"pink"},{"lane":"storage331","start":725.8,"end":785.5,"job":"dgray"},{"lane":"storage331","start":819.6,"end":882.9,"job":"lblue"},{"lane":"storage331","start":883.6,"end":946.1,"job":"salmon"},
{"lane":"lane33","start":1.1,"end":47.5,"job":"teal"},{"lane":"lane33","start":48.2,"end":111.7,"job":"olive"},{"lane":"lane33","start":112.4,"end":168.6,"job":"lav"},{"lane":"lane33","start":169.3,"end":233.6,"job":"olive"},{"lane":"lane33","start":234.5,"end":273,"job":"olive"},{"lane":"lane33","start":329.3,"end":349.5,"job":"navy"},{"lane":"lane33","start":350.4,"end":415.4,"job":"blue"},{"lane":"lane33","start":416.5,"end":471.6,"job":"teal"},{"lane":"lane33","start":478.5,"end":530,"job":"dgray"},{"lane":"lane33","start":625.9,"end":671.1,"job":"purple2"},{"lane":"lane33","start":671.8,"end":726.9,"job":"olive2"},{"lane":"lane33","start":727.6,"end":783,"job":"dcyan"},{"lane":"lane33","start":789.8,"end":822.2,"job":"pink"},{"lane":"lane33","start":823.3,"end":882.9,"job":"dcyan"},{"lane":"lane33","start":883.6,"end":938.5,"job":"lcyan"},{"lane":"lane33","start":954.1,"end":983,"job":"lgreen"},
{"lane":"storage311","start":1.1,"end":47.5,"job":"teal"},{"lane":"storage311","start":48.2,"end":111.7,"job":"maroon"},{"lane":"storage311","start":112.4,"end":160.6,"job":"olive"},{"lane":"storage311","start":169.3,"end":233.6,"job":"red"},{"lane":"storage311","start":234.5,"end":270.8,"job":"olive"},{"lane":"storage311","start":296.4,"end":313.6,"job":"red"},{"lane":"storage311","start":329.3,"end":349.5,"job":"navy"},{"lane":"storage311","start":350.4,"end":415.4,"job":"purple"},{"lane":"storage311","start":416.5,"end":471.6,"job":"dgreen"},{"lane":"storage311","start":478.5,"end":528.5,"job":"teal"},{"lane":"storage311","start":612.2,"end":625.7,"job":"green"},{"lane":"storage311","start":626.4,"end":671.1,"job":"yellow"},{"lane":"storage311","start":671.8,"end":726.9,"job":"olive2"},{"lane":"storage311","start":727.6,"end":779,"job":"lblue"},{"lane":"storage311","start":789.8,"end":819.6,"job":"lblue"},{"lane":"storage311","start":820.3,"end":882.9,"job":"lcyan"},{"lane":"storage311","start":883.6,"end":938.5,"job":"lcyan"},{"lane":"storage311","start":954.1,"end":975.9,"job":"lcyan"}
]},
"encoding":{
"y":{"field":"lane","type":"nominal","title":"Component",
"scale":{"domain":["workstation311","lane1","workstation111","lane3","transport1112","lane5","transport1110","lane7","transport118","lane9","transport115","lane11","transport112","lane13","transport113","lane15","storage431","lane17","storage411","lane19","storage531","lane21","storage511","lane23","storage231","lane25","storage211","lane27","storage131","lane29","storage111","lane31","storage331","lane33","storage311"],"paddingInner":0,"paddingOuter":0},
"axis":{"labelExpr":"indexof(datum.label,'lane')==0 ? '' : datum.label","labelFontSize":12,"labelColor":"#222222","labelPadding":3,"tickSize":5,"tickColor":"#888888","domain":false,"grid":true,"gridDash":[3,3],"gridColor":"#c4c4c4","bandPosition":0.5,"labelOverlap":false,"titleFontSize":23,"titleFontWeight":"normal","titleColor":"#000000","titleX":-126,"titleY":233,"titleBaseline":"middle","titleAlign":"center"}}
},
"layer":[
{"data":{"name":"lanes"},"mark":{"type":"bar","height":6.66,"yOffset":3.33,"color":"#000000","opacity":0.05},"encoding":{"x":{"value":0},"x2":{"value":"width"}}},
{"data":{"name":"bars"},"mark":{"type":"bar","height":11,"stroke":"#808080","strokeWidth":1,"clip":true},
"encoding":{
"x":{"field":"start","type":"quantitative","title":"time (s)","scale":{"domain":[-9.6,984.6],"nice":false,"zero":false},
"axis":{"values":[0,25,50,75,100,125,150,175,200,225,250,275,300,325,350,375,400,425,450,475,500,525,550,575,600,625,650,675,700,725,750,775,800,825,850,875,900,925,950,975],"labelFontSize":12,"labelColor":"#222222","labelPadding":3,"tickSize":5,"tickColor":"#888888","domain":false,"grid":true,"gridDash":[3,3],"gridColor":"#c4c4c4","labelFlush":false,"labelOverlap":false,"titleFontSize":23,"titleFontWeight":"normal","titleColor":"#000000","titleY":50,"titleBaseline":"alphabetic"}},
"x2":{"field":"end"},
"color":{"field":"job","type":"nominal","legend":null,
"scale":{"domain":["maroon","olive","cyan","teal","pink","lav","green","red","navy","purple","dgreen","dgray","olive2","blue","dcyan","purple2","yellow","lred","lblue","lcyan","salmon","lgreen"],
"range":["#800000","#C0C000","#40FFFF","#00C0C0","#FF55FF","#8080FF","#55FF55","#FF5555","#000080","#C000C0","#008000","#404040","#808000","#5555FF","#008080","#800080","#FFFF55","#FF4040","#4040FF","#55FFFF","#FF8080","#40FF40"]}}
}}
]
}
